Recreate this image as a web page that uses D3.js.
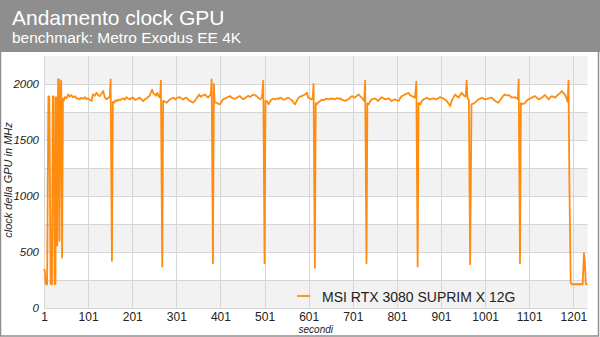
<!DOCTYPE html>
<html>
<head>
<meta charset="utf-8">
<script src="https://cdn.jsdelivr.net/npm/d3@7"></script>
<style>
  html, body { margin: 0; padding: 0; background: #ffffff; }
  svg { display: block; font-family: "Liberation Sans", Arial, sans-serif; }
</style>
</head>
<body>
<svg id="chart" width="600" height="337"></svg>
<script>
// ---- chart texts ----
const chartTitle = "Andamento clock GPU";
const chartSubtitle = "benchmark: Metro Exodus EE 4K";
const yAxisTitle = "clock della GPU in MHz";
const xAxisTitle = "secondi";
const seriesName = "MSI RTX 3080 SUPRIM X 12G";

// ---- tick labels ----
const xTickValues = [1, 101, 201, 301, 401, 501, 601, 701, 801, 901, 1001, 1101, 1201];
const yTickValues = [0, 500, 1000, 1500, 2000];
const yGridValues = [0, 250, 500, 750, 1000, 1250, 1500, 1750, 2000, 2250];

// ---- series: [secondo, clock MHz] ----
const clockSamples = [
  [1,350],[3,330],[5,215],[8,210],[11,1890],[13,1890],[16,215],[19,212],[21,1890],[23,1890],
  [25,212],[27,215],[28,1880],[29,560],[30,1880],[31,560],[33,2040],[35,2040],[36,600],[38,1880],
  [40,2030],[42,450],[44,1870],[46,1850],[48,1883],[52,1872],[56,1907],[59,1888],[63,1901],[67,1880],
  [71,1892],[75,1870],[79,1872],[82,1862],[86,1878],[90,1868],[94,1883],[97,1865],[101,1872],[105,1858],
  [109,1848],[112,1907],[116,1895],[120,1922],[124,1900],[128,1892],[131,1912],[135,1937],[139,1880],[143,1863],
  [147,1878],[150,1883],[152,2040],[155,420],[157,1840],[160,1833],[163,1855],[166,1848],[170,1862],[173,1854],
  [177,1866],[181,1872],[184,1860],[188,1883],[192,1870],[196,1863],[199,1875],[203,1878],[207,1858],[211,1863],
  [215,1872],[218,1878],[222,1860],[226,1848],[230,1865],[234,1872],[237,1885],[240,1892],[243,1922],[246,1950],
  [249,1915],[253,1907],[255,1895],[258,1922],[261,1890],[264,1878],[266,2030],[269,370],[271,1850],[273,1848],
  [276,1840],[279,1833],[283,1850],[287,1863],[290,1870],[294,1878],[298,1862],[302,1872],[305,1880],[309,1883],
  [313,1870],[317,1863],[320,1873],[324,1878],[328,1860],[332,1848],[336,1840],[339,1833],[343,1850],[347,1872],
  [350,1890],[353,1907],[356,1885],[358,1892],[362,1900],[366,1907],[370,1890],[373,1878],[376,1895],[379,1907],
  [381,2040],[384,400],[386,2000],[388,1833],[392,1833],[396,1825],[400,1818],[404,1845],[407,1863],[411,1870],
  [415,1878],[419,1885],[423,1892],[426,1878],[430,1872],[434,1868],[438,1878],[441,1885],[445,1892],[449,1875],
  [453,1863],[456,1872],[460,1883],[464,1895],[468,1883],[472,1897],[476,1907],[480,1898],[483,1892],[487,1875],
  [491,1863],[495,1878],[498,2030],[501,400],[503,1850],[506,1848],[510,1818],[513,1842],[517,1863],[521,1870],
  [525,1862],[529,1872],[532,1866],[536,1878],[540,1872],[544,1860],[548,1863],[551,1872],[555,1878],[559,1865],
  [563,1854],[566,1838],[570,1818],[574,1850],[578,1878],[581,1885],[585,1892],[589,1900],[593,1907],[597,1922],
  [600,1878],[604,1870],[608,1863],[610,1870],[612,2000],[615,360],[617,1830],[619,1818],[623,1835],[627,1848],
  [631,1860],[635,1855],[638,1863],[642,1870],[646,1862],[650,1872],[654,1865],[657,1870],[661,1863],[665,1875],
  [669,1868],[672,1872],[676,1860],[680,1855],[684,1848],[687,1858],[691,1863],[695,1880],[699,1892],[702,1885],
  [706,1878],[710,1895],[714,1907],[718,1890],[721,1878],[724,1865],[727,1848],[729,2030],[732,400],[734,1830],
  [737,1818],[740,1845],[744,1863],[748,1868],[752,1872],[755,1860],[759,1848],[763,1870],[767,1883],[770,1872],
  [774,1863],[778,1868],[782,1872],[786,1860],[789,1848],[793,1858],[797,1863],[801,1855],[805,1848],[808,1872],
  [812,1892],[816,1900],[820,1907],[824,1915],[827,1922],[831,1900],[835,1892],[839,1885],[842,1878],[845,2020],
  [848,370],[850,1830],[854,1818],[857,1845],[861,1863],[865,1870],[869,1878],[872,1868],[876,1863],[880,1870],
  [884,1872],[887,1866],[891,1863],[895,1875],[899,1883],[902,1877],[906,1872],[910,1860],[914,1848],[918,1825],
  [922,1803],[925,1850],[929,1878],[933,1907],[937,1890],[941,1878],[944,1900],[948,1922],[951,1905],[954,1892],
  [957,1890],[959,2030],[961,1870],[964,1860],[967,390],[970,1818],[974,1825],[978,1833],[982,1850],[986,1863],
  [990,1870],[994,1878],[997,1870],[1001,1863],[1005,1868],[1009,1872],[1012,1876],[1016,1878],[1020,1862],[1024,1848],
  [1027,1840],[1031,1833],[1035,1855],[1039,1878],[1042,1895],[1046,1907],[1050,1898],[1054,1901],[1058,1890],[1062,1878],
  [1065,1880],[1069,1883],[1073,1870],[1075,1865],[1077,2040],[1080,400],[1082,1830],[1084,1818],[1088,1825],[1092,1833],
  [1095,1850],[1099,1863],[1103,1870],[1107,1878],[1110,1885],[1114,1892],[1118,1878],[1122,1863],[1126,1870],[1130,1878],
  [1133,1890],[1137,1901],[1141,1880],[1145,1863],[1148,1878],[1152,1892],[1156,1885],[1160,1878],[1163,1892],[1167,1907],
  [1171,1920],[1175,1937],[1178,1920],[1182,1907],[1186,1863],[1188,1840],[1190,2030],[1192,1100],[1195,220],[1198,212],
  [1205,212],[1212,212],[1218,212],[1222,212],[1225,490],[1227,420],[1229,215],[1233,212]
];

// ---- drawing ----
const svg = d3.select("#chart");
const W = 600, H = 337;
const plot = { left: 44, right: 587.5, top: 56, bottom: 308 };

const x = d3.scaleLinear().domain([1, 1233]).range([plot.left, plot.right]);
const y = d3.scaleLinear().domain([0, 2250]).range([plot.bottom, plot.top]);

// whole background
svg.append("rect").attr("x", 0).attr("y", 0).attr("width", W).attr("height", H).attr("fill", "#ffffff");

// title band
svg.append("rect").attr("x", 0).attr("y", 0).attr("width", W).attr("height", 52).attr("fill", "#8e8e8e");
svg.append("text").attr("x", 12).attr("y", 25).attr("fill", "#ffffff")
  .attr("font-size", 21).text(chartTitle);
svg.append("text").attr("x", 12).attr("y", 43).attr("fill", "#ffffff")
  .attr("font-size", 15.5).text(chartSubtitle);

// alternating bands
const bandPairs = d3.pairs(yGridValues);
svg.append("g").selectAll("rect").data(bandPairs).join("rect")
  .attr("x", plot.left)
  .attr("width", plot.right - plot.left)
  .attr("y", d => y(d[1]))
  .attr("height", d => y(d[0]) - y(d[1]))
  .attr("fill", (d, i) => (i % 2 === 0 ? "#f2f2f2" : "#ffffff"));

// horizontal grid
svg.append("g").selectAll("line").data(yGridValues.slice(0, -1)).join("line")
  .attr("x1", plot.left).attr("x2", plot.right)
  .attr("y1", d => Math.round(y(d)) + 0.5).attr("y2", d => Math.round(y(d)) + 0.5)
  .attr("stroke", "#d6d6d6").attr("stroke-width", 1);

// vertical grid
svg.append("g").selectAll("line").data(xTickValues).join("line")
  .attr("x1", d => Math.round(x(d)) + 0.5).attr("x2", d => Math.round(x(d)) + 0.5)
  .attr("y1", plot.top).attr("y2", plot.bottom)
  .attr("stroke", "#d6d6d6").attr("stroke-width", 1);

// y axis labels
const yAxis = d3.axisLeft(y).tickValues(yTickValues).tickSize(0).tickPadding(5).tickFormat(d3.format("d"));
const gy = svg.append("g").attr("transform", `translate(${plot.left},0)`).call(yAxis);
gy.select(".domain").remove();
gy.selectAll("text").attr("font-size", 11.5).attr("font-style", "italic").attr("fill", "#222")
  .attr("font-family", "Liberation Sans, Arial, sans-serif");

// x axis labels
const xAxis = d3.axisBottom(x).tickValues(xTickValues).tickSize(0).tickPadding(4).tickFormat(d3.format("d"));
const gx = svg.append("g").attr("transform", `translate(0,${plot.bottom})`).call(xAxis);
gx.select(".domain").remove();
gx.selectAll("text").attr("font-size", 12).attr("fill", "#222")
  .attr("font-family", "Liberation Sans, Arial, sans-serif");

// axis titles
svg.append("text")
  .attr("transform", `translate(12,180) rotate(-90)`)
  .attr("text-anchor", "middle").attr("font-size", 11).attr("font-style", "italic")
  .attr("fill", "#222").text(yAxisTitle);
svg.append("text")
  .attr("x", (plot.left + plot.right) / 2).attr("y", 333)
  .attr("text-anchor", "middle").attr("font-size", 10).attr("font-style", "italic")
  .attr("fill", "#222").text(xAxisTitle);

// series line
const line = d3.line().x(d => x(d[0])).y(d => y(d[1]));
svg.append("path").datum(clockSamples)
  .attr("d", line).attr("fill", "none")
  .attr("stroke", "#ff8c0f").attr("stroke-width", 1.8).attr("stroke-linejoin", "round");

// legend
svg.append("line").attr("x1", 297).attr("x2", 310).attr("y1", 296).attr("y2", 296)
  .attr("stroke", "#ff8c0f").attr("stroke-width", 1.8);
svg.append("text").attr("x", 322).attr("y", 302).attr("font-size", 14).attr("fill", "#222")
  .text(seriesName);

// outer frame
svg.append("rect").attr("x", 0.5).attr("y", 0.5).attr("width", W - 2).attr("height", H - 1.5)
  .attr("fill", "none").attr("stroke", "#8e8e8e").attr("stroke-width", 1.5);
</script>
</body>
</html>
